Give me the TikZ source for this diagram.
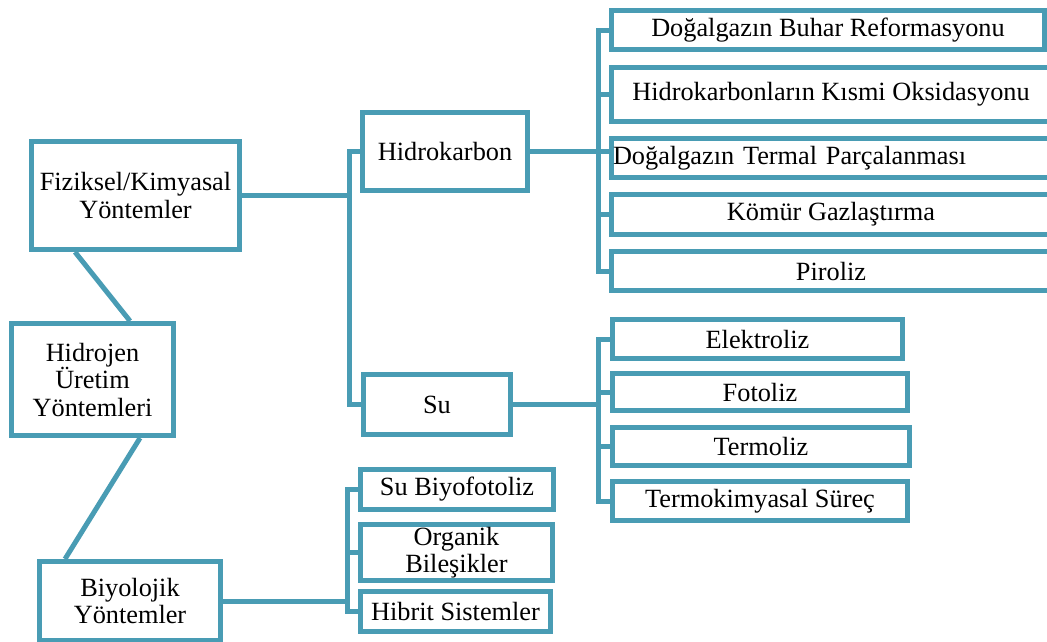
\documentclass[tikz,border=0pt]{standalone}
\usepackage{fontspec}
\setmainfont{Liberation Serif}
\definecolor{tealline}{RGB}{73,156,180}
\pgfdeclarelayer{bg}
\pgfsetlayers{bg,main}
\begin{document}
\begin{tikzpicture}[x=1pt,y=-1pt,
  box/.style={draw=tealline, line width=5pt, fill=white, inner sep=0pt, align=center,
              font=\fontsize{26.3pt}{27.5pt}\selectfont},
  link/.style={draw=tealline, line width=5pt}]
\useasboundingbox (0,0) rectangle (1047,641);
\clip (0,0) rectangle (1047,641);
% left column
\node[box, minimum width=208pt, minimum height=108pt] (F) at (135.5,195.5) {Fiziksel/Kimyasal\\Yöntemler};
\node[box, minimum width=162pt, minimum height=112pt] (H) at (92.5,379.5) {Hidrojen\\Üretim\\Yöntemleri};
\node[box, minimum width=181pt, minimum height=79pt] (B) at (130,601) {Biyolojik\\Yöntemler};
% middle column
\node[box, minimum width=165pt, minimum height=78pt] (Hk) at (445,151.5) {Hidrokarbon};
\node[box, minimum width=147pt, minimum height=60pt] (Su) at (437,404.5) {Su};
\node[box, minimum width=193pt, minimum height=40pt] (SB) at (457,489.5) {Su Biyofotoliz};
\node[box, minimum width=192pt, minimum height=56pt] (Or) at (456.5,552.5) {Organik\\Bileşikler};
\node[box, minimum width=190pt, minimum height=40pt] (Hb) at (455.5,611.5) {Hibrit Sistemler};
% hydrocarbon methods
\node[box, minimum width=433pt, minimum height=39pt] (R1) at (828,30) {Doğalgazın Buhar Reformasyonu};
\node[box, minimum width=439pt, minimum height=54pt] (R2) at (831,94.5) {Hidrokarbonların Kısmi Oksidasyonu};
\node[box, align=left, text width=436pt, inner xsep=1.5pt, minimum height=39pt] (R3) at (831,158) {Doğalgazın Termal Parçalanması};
\node[box, minimum width=439pt, minimum height=40pt] (R4) at (831,214.5) {Kömür Gazlaştırma};
\node[box, minimum width=439pt, minimum height=39pt] (R5) at (831,271) {Piroliz};
% water methods
\node[box, minimum width=290pt, minimum height=39pt] (E) at (757.5,339) {Elektroliz};
\node[box, minimum width=295pt, minimum height=37pt] (Fo) at (760,392) {Fotoliz};
\node[box, minimum width=297pt, minimum height=38pt] (Te) at (761,446.5) {Termoliz};
\node[box, minimum width=295pt, minimum height=39pt] (Tk) at (760,501) {Termokimyasal Süreç};
% spine coordinates
\coordinate (s1) at (349,0);
\coordinate (s2) at (598,0);
\coordinate (s3) at (598,0);
\coordinate (s4) at (347,0);
\begin{pgfonlayer}{bg}
\draw[link] ([xshift=-60.5pt]F.south) -- ([xshift=37.5pt]H.north);
\draw[link] ([xshift=47.5pt]H.south) -- ([xshift=-65pt]B.north);
\draw[link] (F.east) -- (F.east -| s1);
\draw[link] (Hk.west) -- (Hk.west -| s1) -- (Su.west -| s1) -- (Su.west);
\draw[link] (Hk.east) -- (Hk.east -| R3.west);
\draw[link] (R1.west) -- (R1.west -| s2) -- (R5.west -| s2) -- (R5.west);
\draw[link] (R2.west) -- (R2.west -| s2);
\draw[link] (R4.west) -- (R4.west -| s2);
\draw[link] (Su.east) -- (Su.east -| s3);
\draw[link] (E.west) -- (E.west -| s3) -- (Tk.west -| s3) -- (Tk.west);
\draw[link] (Fo.west) -- (Fo.west -| s3);
\draw[link] (Te.west) -- (Te.west -| s3);
\draw[link] (B.east) -- (B.east -| s4);
\draw[link] (SB.west) -- (SB.west -| s4) -- (Hb.west -| s4) -- (Hb.west);
\draw[link] (Or.west) -- (Or.west -| s4);
\end{pgfonlayer}
\end{tikzpicture}
\end{document}
